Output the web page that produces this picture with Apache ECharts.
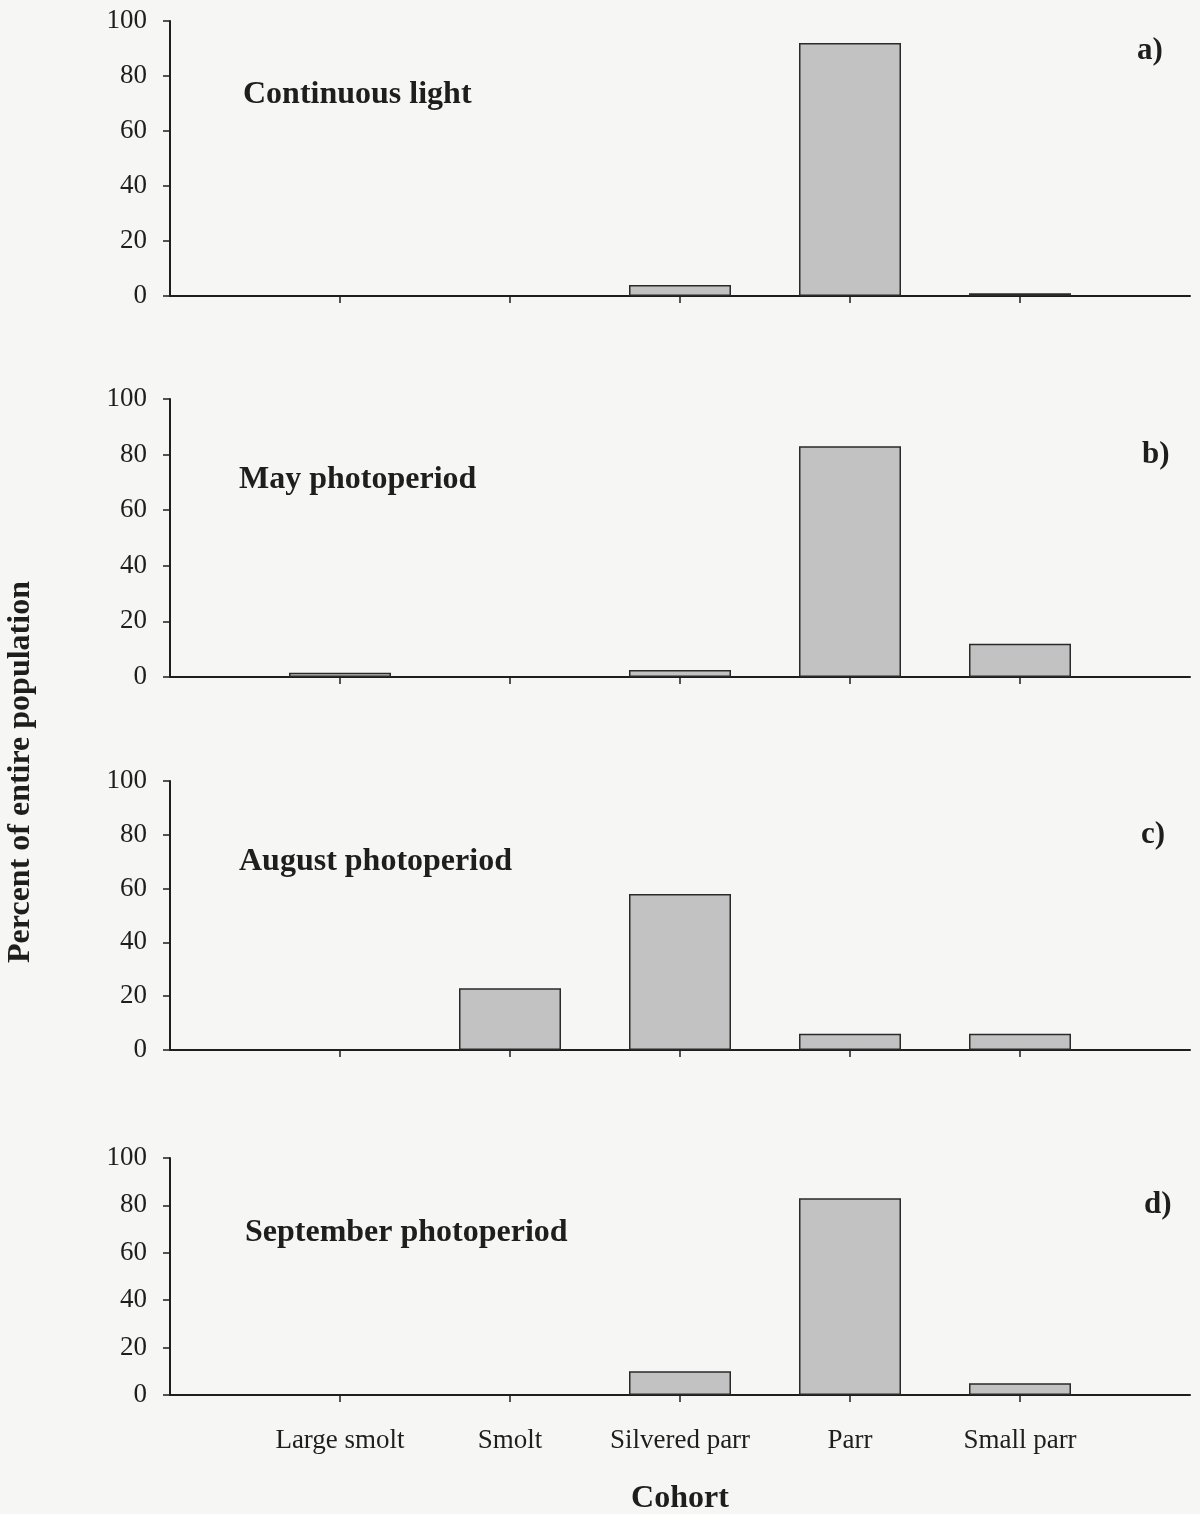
<!DOCTYPE html>
<html>
<head>
<meta charset="utf-8">
<script src="https://cdn.jsdelivr.net/npm/echarts@6/dist/echarts.min.js"></script>
<style>
html,body{margin:0;padding:0;background:#f6f6f4;}
#chart{width:1200px;height:1514px;}
</style>
</head>
<body>
<div id="chart"></div>
<script>
// ---- data ----
const categories = ['Large smolt', 'Smolt', 'Silvered parr', 'Parr', 'Small parr'];
const continuousLight = [0, 0, 4, 92, 1];
const mayPhotoperiod = [1.5, 0, 2.5, 83, 12];
const augustPhotoperiod = [0, 23, 58, 6, 6];
const septemberPhotoperiod = [0, 0, 10, 83, 5];
const yTicks = [0, 20, 40, 60, 80, 100];
const panelTitles = ['Continuous light', 'May photoperiod', 'August photoperiod', 'September photoperiod'];
const panelLetters = ['a)', 'b)', 'c)', 'd)'];

const panels = [continuousLight, mayPhotoperiod, augustPhotoperiod, septemberPhotoperiod];
const gridBoxes = [
  {top: 21, height: 275},
  {top: 399, height: 278},
  {top: 781, height: 269},
  {top: 1158, height: 237}
];
const titlePos = [[243, 95], [239, 480], [239, 862], [245, 1233]];
const letterPos = [[1137, 51], [1142, 455], [1141, 835], [1144, 1205]];

const serif = '"Liberation Serif", "Times New Roman", serif';
const ink = '#1e1e1e';
const xCats = [''].concat(categories, ['']);

const grids = [], xAxes = [], yAxes = [], series = [], graphics = [];
panels.forEach((vals, i) => {
  grids.push({left: 170, width: 1020, top: gridBoxes[i].top, height: gridBoxes[i].height});
  xAxes.push({
    type: 'category', gridIndex: i, data: xCats, boundaryGap: false,
    axisLine: {lineStyle: {color: ink, width: 2}},
    axisTick: {show: true, length: 7, lineStyle: {color: ink, width: 1.5},
      interval: (idx) => idx > 0 && idx < xCats.length - 1},
    axisLabel: {show: i === 3, interval: 0, margin: 32, fontFamily: serif, fontSize: 27, color: ink},
    splitLine: {show: false}
  });
  yAxes.push({
    type: 'value', gridIndex: i, min: 0, max: 100, interval: 20,
    axisLine: {show: true, lineStyle: {color: ink, width: 2}},
    axisTick: {show: true, length: 7, lineStyle: {color: ink, width: 1.5}},
    axisLabel: {fontFamily: serif, fontSize: 27, color: ink, margin: 23,
      formatter: (v) => yTicks.indexOf(v) >= 0 ? String(v) : ''},
    splitLine: {show: false}
  });
  series.push({
    type: 'bar', xAxisIndex: i, yAxisIndex: i, barWidth: 102,
    data: [null].concat(vals.map(v => v === 0 ? null : v), [null]),
    itemStyle: {color: '#c2c2c2', borderColor: '#2a2a2a', borderWidth: 1.5},
    silent: true
  });
  graphics.push({type: 'text', x: titlePos[i][0], y: titlePos[i][1],
    style: {text: panelTitles[i], font: 'bold 32px ' + serif, fill: ink, verticalAlign: 'middle'}});
  graphics.push({type: 'text', x: letterPos[i][0], y: letterPos[i][1],
    style: {text: panelLetters[i], font: 'bold 31px ' + serif, fill: ink, verticalAlign: 'middle'}});
});

graphics.push({type: 'text', x: 680, y: 1499,
  style: {text: 'Cohort', font: 'bold 32px ' + serif, fill: ink, align: 'center', verticalAlign: 'middle'}});
graphics.push({type: 'text', x: 21, y: 772, rotation: Math.PI / 2,
  style: {text: 'Percent of entire population', font: 'bold 32px ' + serif, fill: ink,
    align: 'center', verticalAlign: 'middle'}});

const chart = echarts.init(document.getElementById('chart'), null, {renderer: 'canvas'});
chart.setOption({
  backgroundColor: '#f6f6f4',
  animation: false,
  grid: grids, xAxis: xAxes, yAxis: yAxes, series: series,
  graphic: graphics
});
</script>
</body>
</html>
